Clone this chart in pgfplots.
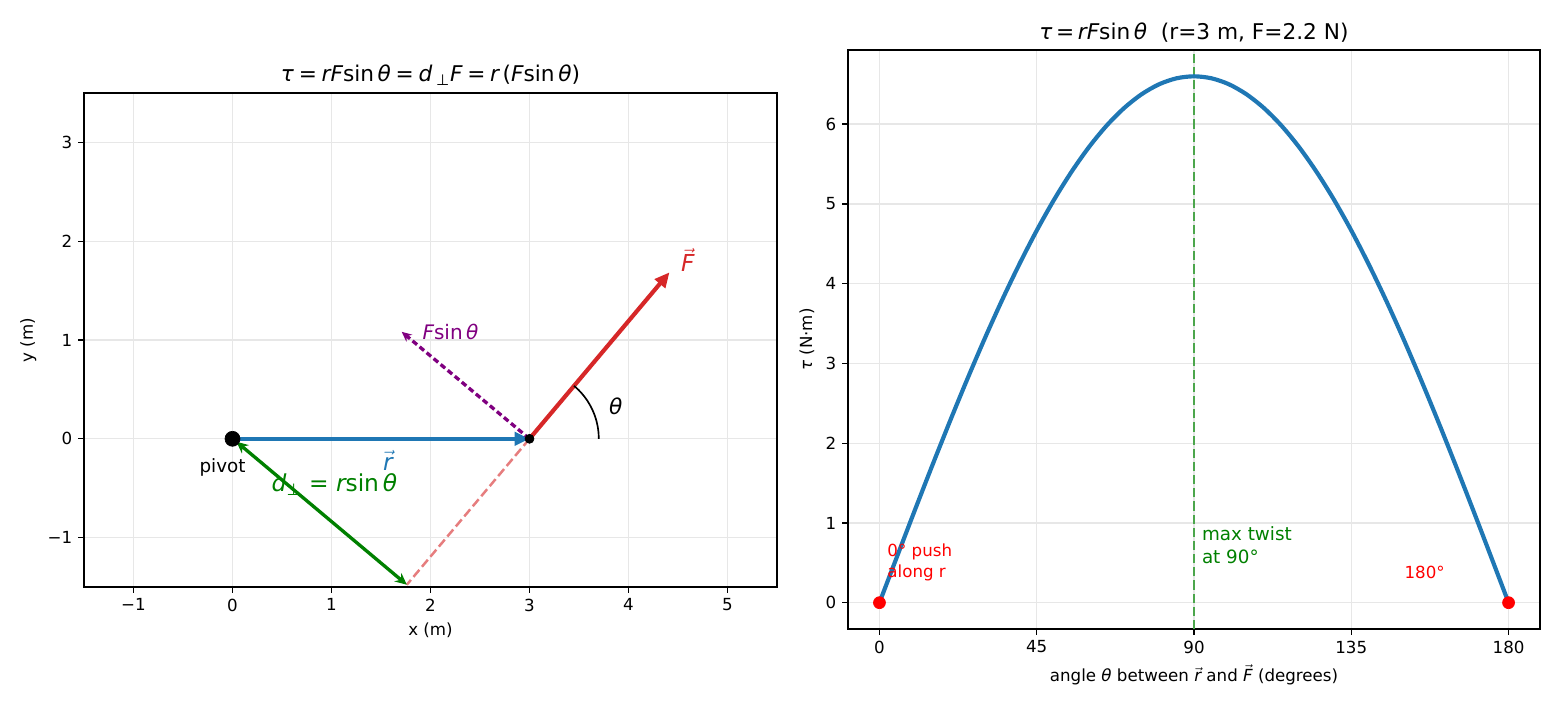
\documentclass[border=0pt]{standalone}
\usepackage{fontspec}
\setmainfont{DejaVu Sans}
\usepackage{pgfplots}
\pgfplotsset{compat=1.18}
\usetikzlibrary{arrows.meta}
\definecolor{tabblue}{RGB}{31,119,180}
\definecolor{tabred}{RGB}{214,39,40}
\definecolor{lightred}{RGB}{230,125,126}
\definecolor{mpurple}{RGB}{128,0,128}
\definecolor{mgreen}{RGB}{0,128,0}
\definecolor{lgreen}{RGB}{76,166,76}
\definecolor{pred}{RGB}{255,0,0}
\definecolor{gridc}{RGB}{231,231,231}
\newcommand{\iv}[1]{{\itshape #1}}
\newcommand{\vv}[1]{\ensuremath{\vec{\hbox{\itshape #1}}}}
\newcommand{\fs}[2]{\fontsize{#1}{#2}\selectfont}
\newcommand{\eq}{\hspace{0.22em}=\hspace{0.22em}}
\pgfplotsset{mystyle/.style={scale only axis,
  axis line style={line width=0.8pt},
  every tick/.style={line width=0.8pt, black},
  tick align=outside, major tick length=3.5pt,
  xtick pos=bottom, ytick pos=left,
  grid=major, grid style={line width=0.8pt, gridc},
  tick label style={font=\fontsize{10}{12}\selectfont},
  label style={font=\fontsize{10}{12}\selectfont},
  title style={font=\fontsize{13}{15}\selectfont, yshift=-5pt},
  /pgf/number format/assume math mode=true}}
\begin{document}
\begin{tikzpicture}
\path[use as bounding box] (0,0) rectangle (936pt,429pt);
% ---------------- left axis
\begin{axis}[mystyle, at={(50.4pt,76.8pt)}, anchor=south west,
  width=415.8pt, height=296.4pt,
  xmin=-1.5, xmax=5.5, ymin=-1.5, ymax=3.5,
  xtick={-1,0,1,2,3,4,5}, xticklabels={−1,0,1,2,3,4,5},
  ytick={-1,0,1,2,3}, yticklabels={−1,0,1,2,3},
  xlabel={x (m)}, ylabel={y (m)},
  title={\iv{τ}\eq\iv{rF}sin\,\iv{θ}\eq\iv{d}\,\textsubscript{⊥}\iv{F}\eq\iv{r}\,(\iv{F}sin\,\iv{θ})}]
% dashed line of action
\addplot[lightred, line width=1.5pt, dash pattern=on 5.5pt off 2.4pt] coordinates {(3,0) (1.761,-1.477)};
% r vector
\addplot[tabblue, line width=2.5pt, -{Triangle[length=9pt,width=8pt]}] coordinates {(0,0) (3,0)};
% F vector
\addplot[tabred, line width=2.5pt, -{Triangle[length=9pt,width=8pt]}] coordinates {(3,0) (4.414,1.685)};
% F sin theta
\addplot[mpurple, line width=2pt, dash pattern=on 3.5pt off 2pt, -{Stealth[length=6pt,width=5.5pt]}] coordinates {(3,0) (1.709,1.083)};
% d perp
\addplot[mgreen, line width=2pt, {Stealth[length=7pt,width=6.5pt]}-{Stealth[length=7pt,width=6.5pt]}] coordinates {(0.04,-0.03) (1.761,-1.477)};
% theta arc
\addplot[black, line width=1pt, smooth] coordinates {(3.7,0) (3.6973,0.0610) (3.6894,0.1216) (3.6762,0.1812) (3.6578,0.2394) (3.6344,0.2958) (3.6062,0.35) (3.5734,0.4015) (3.5362,0.45) (3.4950,0.4950) (3.45,0.5362)};
% dots
\addplot[only marks, mark=*, mark size=4.5pt, black] coordinates {(0,0)};
\addplot[only marks, mark=*, mark size=2.7pt, black] coordinates {(3,0)};
% labels
\node[font=\fs{11}{13}] at (-0.1,-0.29) {pivot};
\node[font=\fs{14}{17}, text=tabblue] at (1.57,-0.22) {\vv{r}};
\node[font=\fs{14}{17}, text=tabred] at (4.6,1.81) {\vv{F}};
\node[font=\fs{13}{16}] at (3.87,0.33) {\iv{θ}};
\node[font=\fs{14}{17}, text=mgreen] at (1.03,-0.46) {\iv{d}\textsubscript{⊥} = \iv{r}sin\,\iv{θ}};
\node[font=\fs{12}{14}, text=mpurple, anchor=west] at (1.86,1.08) {\iv{F}sin\,\iv{θ}};
\end{axis}
% ---------------- right axis
\begin{axis}[mystyle, at={(508.8pt,51.6pt)}, anchor=south west,
  width=415.2pt, height=347.4pt,
  xmin=-9, xmax=189, ymin=-0.33, ymax=6.93,
  xtick={0,45,90,135,180}, ytick={0,1,2,3,4,5,6},
  xlabel={angle \iv{θ} between \vv{r} and \vv{F} (degrees)},
  ylabel={\iv{τ} (N·m)},
  title={\iv{τ}\,=\,\iv{rF}sin\,\iv{θ}\ \ (r=3 m, F=2.2 N)}]
\addplot[lgreen, line width=1.5pt, dash pattern=on 5.5pt off 2.4pt] coordinates {(90,-0.33) (90,6.93)};
\addplot[tabblue, line width=2.5pt, smooth] coordinates {
(0,0) (5,0.575) (10,1.146) (15,1.708) (20,2.257) (25,2.789) (30,3.300) (35,3.786) (40,4.242) (45,4.667)
(50,5.056) (55,5.406) (60,5.716) (65,5.982) (70,6.202) (75,6.375) (80,6.500) (85,6.575) (90,6.600)
(95,6.575) (100,6.500) (105,6.375) (110,6.202) (115,5.982) (120,5.716) (125,5.406) (130,5.056) (135,4.667)
(140,4.242) (145,3.786) (150,3.300) (155,2.789) (160,2.257) (165,1.708) (170,1.146) (175,0.575) (180,0)};
\addplot[only marks, mark=*, mark size=3.6pt, pred] coordinates {(0,0) (180,0)};
\node[font=\fs{11}{13.5}, text=mgreen, anchor=west, align=left] at (90.6,0.72) {max twist\\at 90°};
\node[font=\fs{10}{12.5}, text=pred, anchor=west, align=left] at (0.6,0.5) {0° push\\along r};
\node[font=\fs{10}{12}, text=pred] at (156,0.38) {180°};
\end{axis}
\end{tikzpicture}
\end{document}
